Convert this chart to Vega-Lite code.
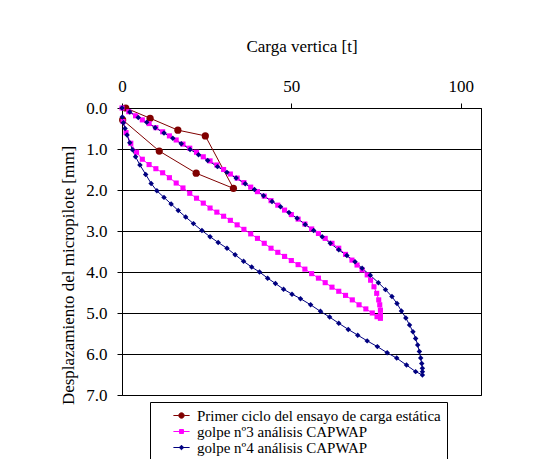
{
 "$schema": "https://vega.github.io/schema/vega-lite/v6.json",
 "width": 359,
 "height": 287,
 "autosize": {"type": "none"},
 "padding": {"left": 122, "top": 108, "right": 62, "bottom": 64},
 "background": "white",
 "config": {
  "font": "Liberation Serif",
  "view": {"stroke": "black", "strokeWidth": 1}
 },
 "data": {"values": [
  {"s":"r","i":1,"t":1.1,"d":0.0},{"s":"r","i":2,"t":8.3,"d":0.25},{"s":"r","i":3,"t":16.5,"d":0.54},{"s":"r","i":4,"t":24.6,"d":0.68},{"s":"r","i":5,"t":32.9,"d":1.96},{"s":"r","i":6,"t":21.9,"d":1.59},{"s":"r","i":7,"t":11.0,"d":1.05},{"s":"r","i":8,"t":0.2,"d":0.29},
  {"s":"m","i":1,"t":0,"d":0},{"s":"m","i":2,"t":2,"d":0.09},{"s":"m","i":3,"t":4,"d":0.19},{"s":"m","i":4,"t":6,"d":0.29},{"s":"m","i":5,"t":8,"d":0.38},{"s":"m","i":6,"t":10,"d":0.48},{"s":"m","i":7,"t":12,"d":0.58},{"s":"m","i":8,"t":14,"d":0.68},{"s":"m","i":9,"t":16,"d":0.78},{"s":"m","i":10,"t":18,"d":0.88},
  {"s":"m","i":11,"t":20,"d":0.98},{"s":"m","i":12,"t":22,"d":1.08},{"s":"m","i":13,"t":24,"d":1.19},{"s":"m","i":14,"t":26,"d":1.29},{"s":"m","i":15,"t":28,"d":1.39},{"s":"m","i":16,"t":30,"d":1.5},{"s":"m","i":17,"t":32,"d":1.61},{"s":"m","i":18,"t":34,"d":1.71},{"s":"m","i":19,"t":36,"d":1.82},{"s":"m","i":20,"t":38,"d":1.93},
  {"s":"m","i":21,"t":40,"d":2.04},{"s":"m","i":22,"t":42,"d":2.15},{"s":"m","i":23,"t":44,"d":2.26},{"s":"m","i":24,"t":46,"d":2.37},{"s":"m","i":25,"t":48,"d":2.49},{"s":"m","i":26,"t":50,"d":2.6},{"s":"m","i":27,"t":52,"d":2.71},{"s":"m","i":28,"t":54,"d":2.83},{"s":"m","i":29,"t":56,"d":2.95},{"s":"m","i":30,"t":58,"d":3.06},
  {"s":"m","i":31,"t":60,"d":3.18},{"s":"m","i":32,"t":62,"d":3.3},{"s":"m","i":33,"t":64,"d":3.42},{"s":"m","i":34,"t":66,"d":3.57},{"s":"m","i":35,"t":67.9,"d":3.71},{"s":"m","i":36,"t":69.4,"d":3.83},{"s":"m","i":37,"t":70.9,"d":3.95},{"s":"m","i":38,"t":72.4,"d":4.07},{"s":"m","i":39,"t":73.4,"d":4.2},{"s":"m","i":40,"t":74.4,"d":4.36},
  {"s":"m","i":41,"t":75.2,"d":4.52},{"s":"m","i":42,"t":75.8,"d":4.68},{"s":"m","i":43,"t":76.1,"d":4.8},{"s":"m","i":44,"t":76.3,"d":4.93},{"s":"m","i":45,"t":76.3,"d":5.05},{"s":"m","i":46,"t":76.3,"d":5.13},
  {"s":"m","i":47,"t":75.3,"d":5.09},{"s":"m","i":48,"t":73.9,"d":5.0},{"s":"m","i":49,"t":72,"d":4.9},{"s":"m","i":50,"t":70,"d":4.8},{"s":"m","i":51,"t":68,"d":4.68},{"s":"m","i":52,"t":66,"d":4.57},{"s":"m","i":53,"t":64,"d":4.47},{"s":"m","i":54,"t":62,"d":4.37},{"s":"m","i":55,"t":60,"d":4.26},{"s":"m","i":56,"t":58,"d":4.15},
  {"s":"m","i":57,"t":56,"d":4.04},{"s":"m","i":58,"t":54,"d":3.93},{"s":"m","i":59,"t":52,"d":3.82},{"s":"m","i":60,"t":50,"d":3.72},{"s":"m","i":61,"t":48,"d":3.62},{"s":"m","i":62,"t":46,"d":3.52},{"s":"m","i":63,"t":44,"d":3.42},{"s":"m","i":64,"t":42,"d":3.3},{"s":"m","i":65,"t":40,"d":3.18},{"s":"m","i":66,"t":38,"d":3.07},
  {"s":"m","i":67,"t":36,"d":2.96},{"s":"m","i":68,"t":34,"d":2.85},{"s":"m","i":69,"t":32,"d":2.74},{"s":"m","i":70,"t":30,"d":2.64},{"s":"m","i":71,"t":28,"d":2.54},{"s":"m","i":72,"t":26,"d":2.44},{"s":"m","i":73,"t":24,"d":2.32},{"s":"m","i":74,"t":22,"d":2.2},{"s":"m","i":75,"t":20,"d":2.08},{"s":"m","i":76,"t":18,"d":1.95},
  {"s":"m","i":77,"t":16,"d":1.83},{"s":"m","i":78,"t":14,"d":1.7},{"s":"m","i":79,"t":12,"d":1.58},{"s":"m","i":80,"t":10,"d":1.48},{"s":"m","i":81,"t":8,"d":1.38},{"s":"m","i":82,"t":6,"d":1.25},{"s":"m","i":83,"t":4.3,"d":1.08},{"s":"m","i":84,"t":2.6,"d":0.86},{"s":"m","i":85,"t":1.2,"d":0.6},{"s":"m","i":86,"t":0.3,"d":0.33},
  {"s":"b","i":1,"t":0,"d":0},{"s":"b","i":2,"t":2.3,"d":0.1},{"s":"b","i":3,"t":4.8,"d":0.23},{"s":"b","i":4,"t":7.3,"d":0.35},{"s":"b","i":5,"t":9.8,"d":0.48},{"s":"b","i":6,"t":12.4,"d":0.61},{"s":"b","i":7,"t":15,"d":0.74},{"s":"b","i":8,"t":17.5,"d":0.87},{"s":"b","i":9,"t":20.1,"d":1.01},{"s":"b","i":10,"t":22.6,"d":1.14},
  {"s":"b","i":11,"t":25.3,"d":1.28},{"s":"b","i":12,"t":28.2,"d":1.43},{"s":"b","i":13,"t":31,"d":1.57},{"s":"b","i":14,"t":33.7,"d":1.71},{"s":"b","i":15,"t":36.4,"d":1.85},{"s":"b","i":16,"t":39.1,"d":1.99},{"s":"b","i":17,"t":41.8,"d":2.14},{"s":"b","i":18,"t":44.3,"d":2.28},{"s":"b","i":19,"t":46.8,"d":2.41},{"s":"b","i":20,"t":49.3,"d":2.55},
  {"s":"b","i":21,"t":51.7,"d":2.69},{"s":"b","i":22,"t":54.1,"d":2.84},{"s":"b","i":23,"t":56.6,"d":2.99},{"s":"b","i":24,"t":59.1,"d":3.14},{"s":"b","i":25,"t":61.5,"d":3.3},{"s":"b","i":26,"t":64,"d":3.46},{"s":"b","i":27,"t":66.4,"d":3.6},{"s":"b","i":28,"t":68.8,"d":3.75},{"s":"b","i":29,"t":70.9,"d":3.91},{"s":"b","i":30,"t":73.3,"d":4.08},
  {"s":"b","i":31,"t":75.7,"d":4.26},{"s":"b","i":32,"t":77.8,"d":4.43},{"s":"b","i":33,"t":79.7,"d":4.6},{"s":"b","i":34,"t":81.2,"d":4.77},{"s":"b","i":35,"t":82.5,"d":4.95},{"s":"b","i":36,"t":83.8,"d":5.12},{"s":"b","i":37,"t":84.9,"d":5.29},{"s":"b","i":38,"t":85.9,"d":5.46},{"s":"b","i":39,"t":86.7,"d":5.62},{"s":"b","i":40,"t":87.3,"d":5.78},
  {"s":"b","i":41,"t":87.8,"d":5.94},{"s":"b","i":42,"t":88.2,"d":6.1},{"s":"b","i":43,"t":88.5,"d":6.23},{"s":"b","i":44,"t":88.7,"d":6.35},{"s":"b","i":45,"t":88.7,"d":6.43},{"s":"b","i":46,"t":88.7,"d":6.51},
  {"s":"b","i":47,"t":86.7,"d":6.43},{"s":"b","i":48,"t":84,"d":6.27},{"s":"b","i":49,"t":81.1,"d":6.1},{"s":"b","i":50,"t":78.3,"d":5.97},{"s":"b","i":51,"t":75.4,"d":5.82},{"s":"b","i":52,"t":72.4,"d":5.68},{"s":"b","i":53,"t":69.6,"d":5.54},{"s":"b","i":54,"t":66.8,"d":5.4},{"s":"b","i":55,"t":64,"d":5.25},{"s":"b","i":56,"t":61.3,"d":5.1},
  {"s":"b","i":57,"t":58.6,"d":4.96},{"s":"b","i":58,"t":55.7,"d":4.8},{"s":"b","i":59,"t":52.7,"d":4.65},{"s":"b","i":60,"t":50.2,"d":4.54},{"s":"b","i":61,"t":47.7,"d":4.42},{"s":"b","i":62,"t":45.3,"d":4.28},{"s":"b","i":63,"t":43,"d":4.15},{"s":"b","i":64,"t":40.6,"d":4.0},{"s":"b","i":65,"t":38.3,"d":3.88},{"s":"b","i":66,"t":35.9,"d":3.74},
  {"s":"b","i":67,"t":33.4,"d":3.58},{"s":"b","i":68,"t":31,"d":3.42},{"s":"b","i":69,"t":28.4,"d":3.28},{"s":"b","i":70,"t":26,"d":3.14},{"s":"b","i":71,"t":23.6,"d":2.99},{"s":"b","i":72,"t":21.1,"d":2.82},{"s":"b","i":73,"t":18.8,"d":2.66},{"s":"b","i":74,"t":16.6,"d":2.5},{"s":"b","i":75,"t":14.5,"d":2.34},{"s":"b","i":76,"t":12.4,"d":2.18},
  {"s":"b","i":77,"t":10.3,"d":2.02},{"s":"b","i":78,"t":8.6,"d":1.84},{"s":"b","i":79,"t":7,"d":1.62},{"s":"b","i":80,"t":5.3,"d":1.39},{"s":"b","i":81,"t":4,"d":1.19},{"s":"b","i":82,"t":3.1,"d":1.02},{"s":"b","i":83,"t":2.3,"d":0.85},{"s":"b","i":84,"t":1.5,"d":0.66},{"s":"b","i":85,"t":0.9,"d":0.5},{"s":"b","i":86,"t":0.4,"d":0.36},{"s":"b","i":87,"t":0.1,"d":0.22}
 ]},
 "encoding": {
  "x": {"field": "t", "type": "quantitative", "scale": {"domain": [0, 106], "nice": false, "zero": false},
        "axis": {"orient": "top", "values": [0, 50, 100], "title": "Carga vertica [t]", "grid": false, "titlePadding": 22, "labelFlush": false,
                 "labelFont": "Liberation Serif", "labelFontSize": 17, "labelColor": "black", "titleFont": "Liberation Serif", "titleFontSize": 17, "titleFontWeight": "normal", "titleColor": "black",
                 "domainColor": "black", "tickColor": "black", "tickSize": 5, "labelPadding": 8}},
  "y": {"field": "d", "type": "quantitative", "scale": {"domain": [0, 7], "reverse": true, "nice": false, "zero": false},
        "axis": {"values": [0, 1, 2, 3, 4, 5, 6, 7], "format": ".1f", "title": "Desplazamiento del micropilote [mm]", "grid": true, "gridColor": "black", "gridOpacity": 1,
                 "labelFont": "Liberation Serif", "labelFontSize": 17, "labelColor": "black", "titleFont": "Liberation Serif", "titleFontSize": 17, "titleFontWeight": "normal", "titleColor": "black",
                 "domainColor": "black", "tickColor": "black", "tickSize": 5, "labelPadding": 10,
                 "titleX": -54, "titleY": 167, "titleBaseline": "middle", "titleAlign": "center", "titleAngle": -90, "labelFlush": false}},
  "color": {"field": "s", "type": "nominal",
    "scale": {"domain": ["r", "m", "b"], "range": ["#800000", "#FF00FF", "#000080"]},
    "legend": {"title": null, "orient": "none", "legendX": 28, "legendY": 294,
      "labelExpr": "datum.value == 'r' ? 'Primer ciclo del ensayo de carga estática' : datum.value == 'm' ? 'golpe nº3 análisis CAPWAP' : 'golpe nº4 análisis CAPWAP'",
      "labelFont": "Liberation Serif", "labelFontSize": 15, "labelColor": "black", "labelLimit": 400,
      "strokeColor": "black", "fillColor": "white", "padding": 6, "symbolOffset": 18, "rowPadding": -4,
      "symbolSize": 144, "labelOffset": 8, "symbolStrokeWidth": 1,
      "encode": {"symbols": {"update": {
        "shape": {"signal": "datum.value == 'r' ? 'M-1.35,0H-0.45A0.45,0.45 0 1,1 0.45,0A0.45,0.45 0 1,1 -0.45,0M0.45,0H1.35' : datum.value == 'm' ? 'M-1.35,0H1.35M-0.33,-0.33H0.33V0.33H-0.33Z' : 'M-1.35,0H1.35M0,-0.38L0.38,0L0,0.38L-0.38,0Z'"},
        "stroke": {"signal": "datum.value == 'r' ? '#800000' : datum.value == 'm' ? '#FF00FF' : '#000080'"},
        "fill": {"signal": "datum.value == 'r' ? '#800000' : datum.value == 'm' ? '#FF00FF' : '#000080'"},
        "strokeWidth": {"value": 1},
        "opacity": {"value": 1}
      }}}
    }},
  "order": {"field": "i", "type": "quantitative"}
 },
 "layer": [
  {"mark": {"type": "line", "strokeWidth": 1, "clip": false}},
  {"transform": [{"filter": "datum.s == 'r'"}],
   "mark": {"type": "point", "filled": true, "opacity": 1, "clip": false, "shape": "circle", "size": 52}},
  {"transform": [{"filter": "datum.s == 'm'"}],
   "mark": {"type": "point", "filled": true, "opacity": 1, "clip": false, "shape": "square", "size": 26}},
  {"transform": [{"filter": "datum.s == 'b'"}],
   "mark": {"type": "point", "filled": true, "opacity": 1, "clip": false, "shape": "diamond", "size": 30}}
 ]
}
